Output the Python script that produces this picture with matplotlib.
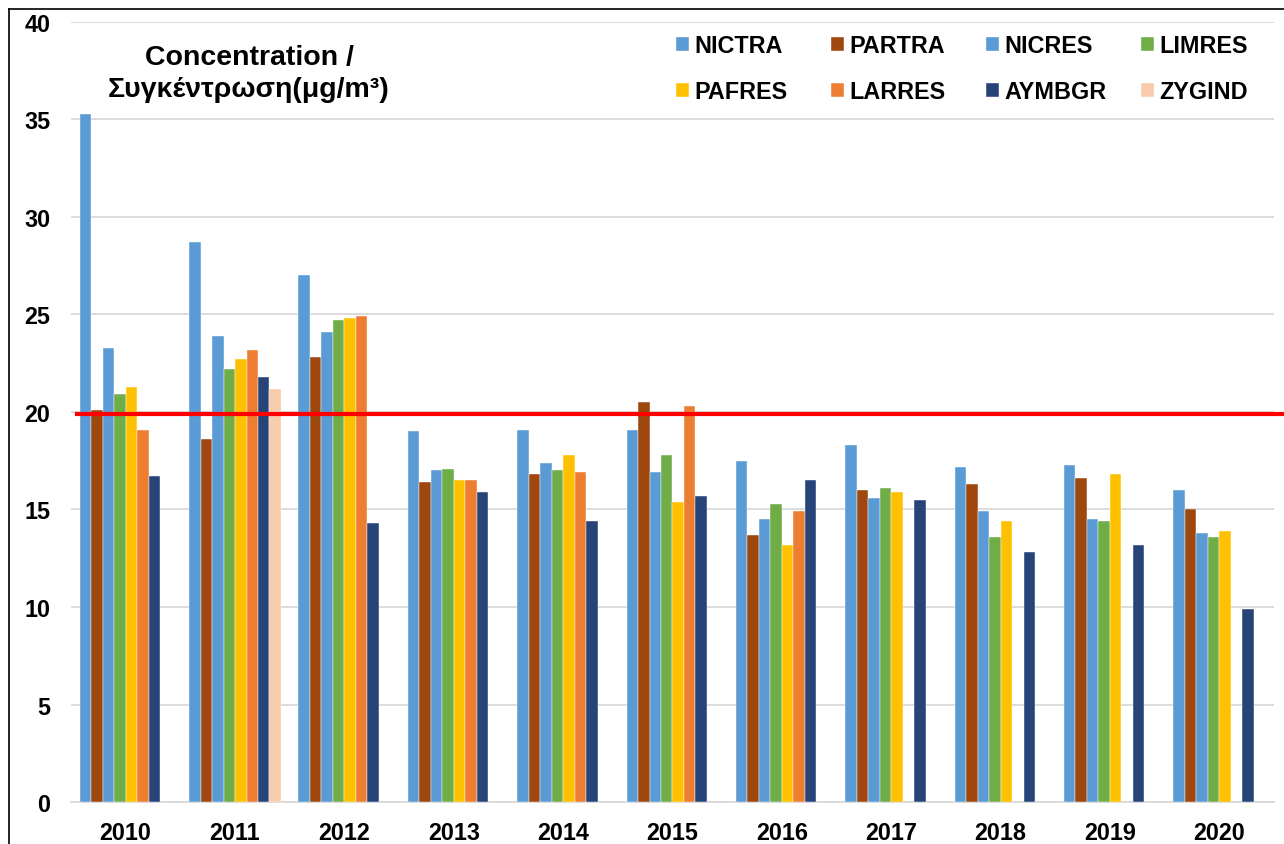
import numpy as np
import matplotlib
matplotlib.use("Agg")
import matplotlib.pyplot as plt
from matplotlib.lines import Line2D

nan = np.nan
years = ["2010", "2011", "2012", "2013", "2014", "2015", "2016", "2017", "2018", "2019", "2020"]

NICTRA = [35.3, 28.7, 27.0, 19.0, 19.1, 19.1, 17.5, 18.3, 17.2, 17.3, 16.0]
PARTRA = [20.1, 18.6, 22.8, 16.4, 16.8, 20.5, 13.7, 16.0, 16.3, 16.6, 15.0]
NICRES = [23.3, 23.9, 24.1, 17.0, 17.4, 16.9, 14.5, 15.6, 14.9, 14.5, 13.8]
LIMRES = [20.9, 22.2, 24.7, 17.1, 17.0, 17.8, 15.3, 16.1, 13.6, 14.4, 13.6]
PAFRES = [21.3, 22.7, 24.8, 16.5, 17.8, 15.4, 13.2, 15.9, 14.4, 16.8, 13.9]
LARRES = [19.1, 23.2, 24.9, 16.5, 16.9, 20.3, 14.9, nan, nan, nan, nan]
AYMBGR = [16.7, 21.8, 14.3, 15.9, 14.4, 15.7, 16.5, 15.5, 12.8, 13.2, 9.9]
ZYGIND = [nan, 21.2, nan, nan, nan, nan, nan, nan, nan, nan, nan]

names = ["NICTRA", "PARTRA", "NICRES", "LIMRES", "PAFRES", "LARRES", "AYMBGR", "ZYGIND"]
series = [NICTRA, PARTRA, NICRES, LIMRES, PAFRES, LARRES, AYMBGR, ZYGIND]
colors = ["#5B9BD5", "#9E480E", "#5B9BD5", "#70AD47", "#FFC000", "#ED7D31", "#264478", "#F8CBAD"]
limit = 19.9

plt.rcParams["font.family"] = ["Liberation Sans", "DejaVu Sans"]
plt.rcParams["font.weight"] = "bold"

fig = plt.figure(figsize=(12.84, 8.45), dpi=100)
ax = fig.add_axes([0.0553, 0.0497, 0.9369, 0.9231])

x = np.arange(len(years))
w = 0.105
bars = []
for i, (name, vals, c) in enumerate(zip(names, series, colors)):
    b = ax.bar(x + (i - 3.5) * w, vals, w, color=c, label=name, zorder=3,
               edgecolor="white", linewidth=0.3)
    bars.append(b)

ax.axhline(limit, xmin=0.005, xmax=1.02, color="#FF0000", lw=3, zorder=4, clip_on=False)

ax.set_xlim(-0.5, len(years) - 0.5)
ax.set_ylim(0, 40)
ax.set_yticks(range(0, 41, 5))
ax.set_xticks(x)
ax.set_xticklabels(years)
ax.tick_params(axis="both", length=0, labelsize=16.8)
ax.tick_params(axis="y", pad=15)
ax.tick_params(axis="x", pad=14)
ax.grid(axis="y", color="#D9D9D9", lw=1.3, zorder=0)
for s in ["top", "right", "left"]:
    ax.spines[s].set_visible(False)
ax.spines["bottom"].set_color("#D9D9D9")
ax.spines["bottom"].set_linewidth(1.3)

ax.text(0.148, 0.972, "Concentration /\nΣυγκέντρωση(μg/m³)", transform=ax.transAxes,
        ha="center", va="top", fontsize=20.5, fontweight="bold", linespacing=1.3)

# legend: four columns with fixed pitch, rows filled left to right
col_x = [676, 831, 986, 1141]
for k, cx in enumerate(col_x):
    idx = [k, k + 4]
    fig.legend([bars[j] for j in idx], [names[j] for j in idx],
               loc="upper left", bbox_to_anchor=(cx / 1284, 1 - 35 / 845),
               bbox_transform=fig.transFigure, frameon=False, fontsize=16.8,
               borderpad=0, borderaxespad=0, handlelength=0.57, handleheight=0.57,
               handletextpad=0.22, labelspacing=1.0)

# figure frame (top and left edges visible)
fig.add_artist(Line2D([9 / 1284, 9 / 1284], [0, 1 - 10 / 845], color="black", lw=1.2,
                      transform=fig.transFigure))
fig.add_artist(Line2D([9 / 1284, 1], [1 - 10 / 845, 1 - 10 / 845], color="black", lw=1.2,
                      transform=fig.transFigure))

fig.savefig("out.png", dpi=100)
